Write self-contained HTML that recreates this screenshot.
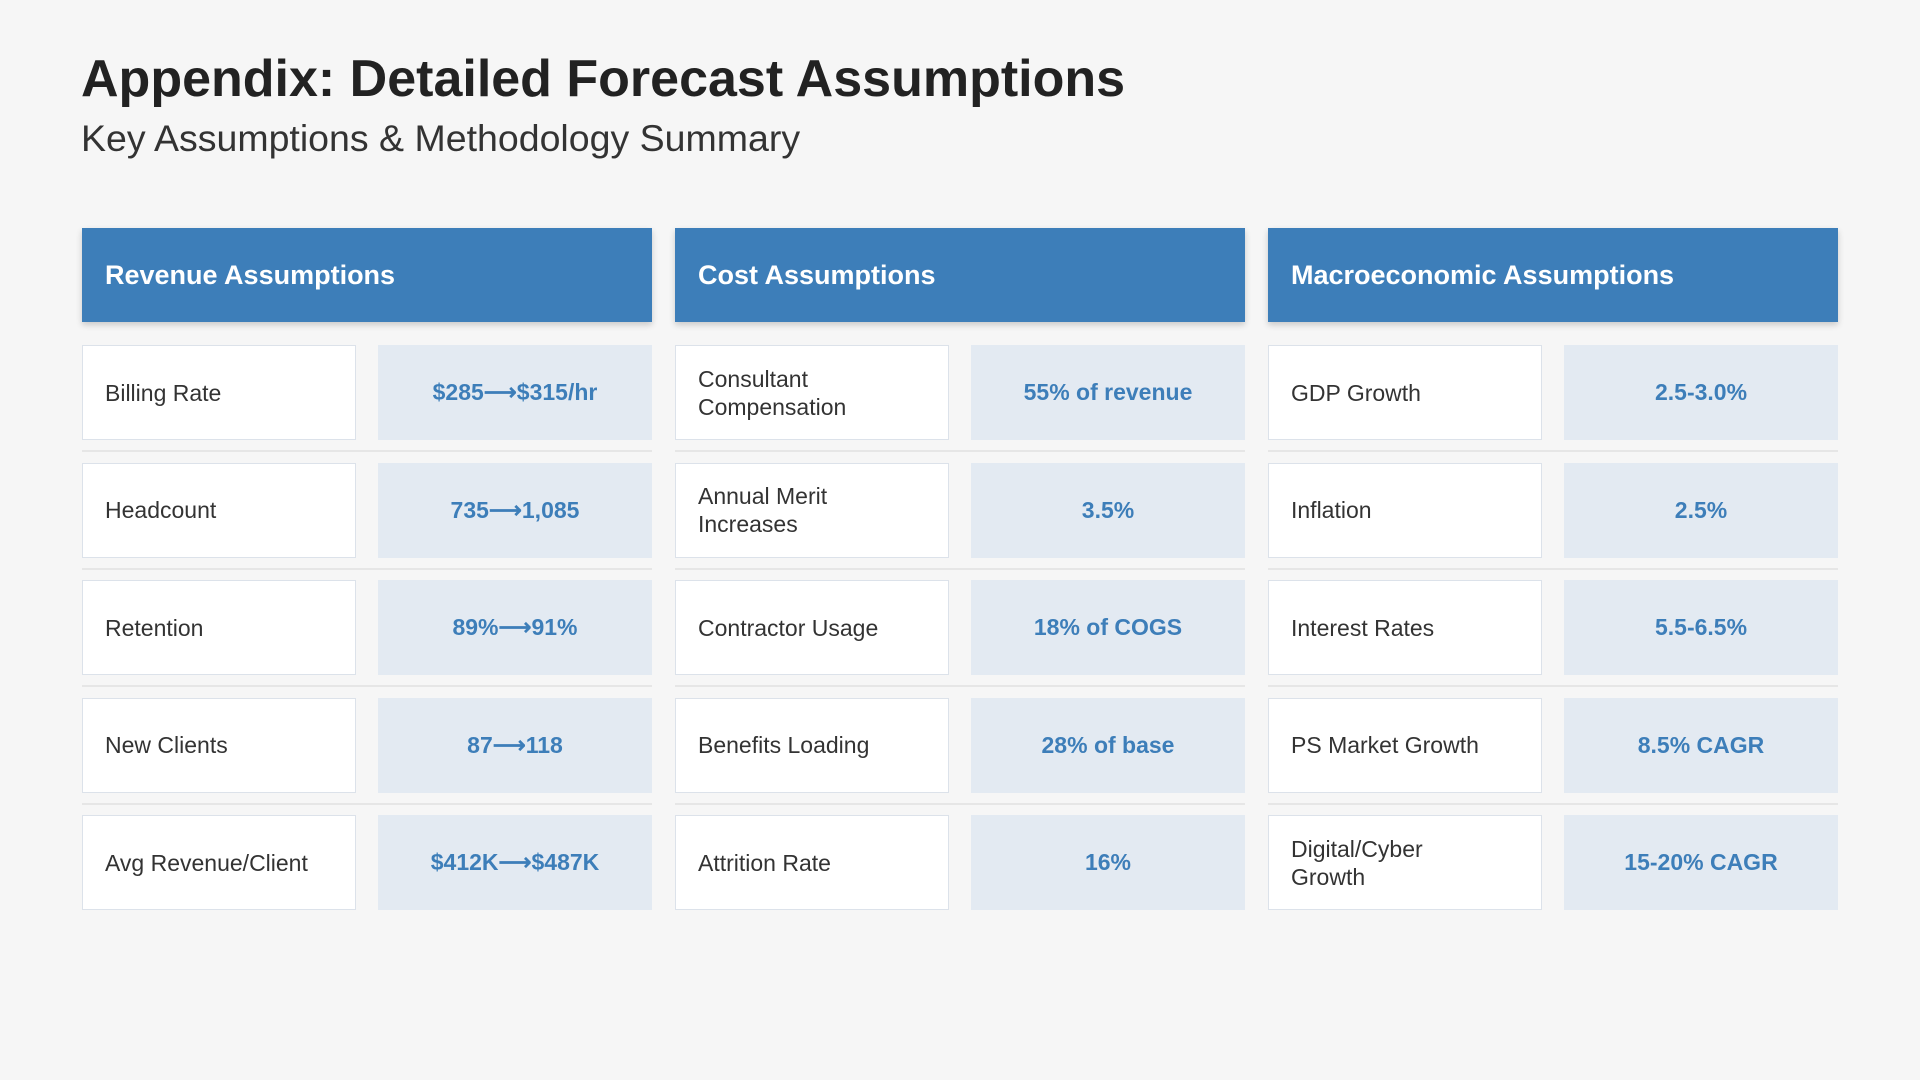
<!DOCTYPE html>
<html><head><meta charset="utf-8"><style>
*{margin:0;padding:0;box-sizing:border-box}
body{width:1920px;height:1080px;background:#f6f6f6;font-family:"Liberation Sans",sans-serif;position:relative;overflow:hidden;color:#2a2a2a}
.t{position:absolute;left:81px;top:49px;font-size:52px;font-weight:bold;color:#222;white-space:nowrap}
.s{position:absolute;left:81px;top:117px;font-size:37.5px;color:#333;white-space:nowrap}
.h{position:absolute;top:228px;width:570px;height:94px;background:#3d7eb9;color:#fff;font-weight:bold;font-size:27px;padding-left:23px;line-height:94px;box-shadow:0 3px 6px rgba(0,0,0,0.18)}
.l{position:absolute;width:274px;height:95px;background:#fff;border:1.5px solid #dce2ea;font-size:23px;padding-left:22px;display:flex;align-items:center;line-height:28px;color:#333}
.v{position:absolute;width:274px;height:95px;background:#e3eaf2;font-size:23px;font-weight:bold;color:#3d7eb9;display:flex;align-items:center;justify-content:center}
.sep{position:absolute;width:570px;height:2px;background:#e6e6e6}
</style></head><body>
<div class="t">Appendix: Detailed Forecast Assumptions</div>
<div class="s">Key Assumptions &amp; Methodology Summary</div>
<div class="h" style="left:82px">Revenue Assumptions</div>
<div class="h" style="left:675px">Cost Assumptions</div>
<div class="h" style="left:1268px">Macroeconomic Assumptions</div>
<div id="g"></div>
<script>
var cols=[82,675,1268];
var d=[
[["Billing Rate","$285⟶$315/hr"],["Headcount","735⟶1,085"],["Retention","89%⟶91%"],["New Clients","87⟶118"],["Avg Revenue/Client","$412K⟶$487K"]],
[["Consultant<br>Compensation","55% of revenue"],["Annual Merit<br>Increases","3.5%"],["Contractor Usage","18% of COGS"],["Benefits Loading","28% of base"],["Attrition Rate","16%"]],
[["GDP Growth","2.5-3.0%"],["Inflation","2.5%"],["Interest Rates","5.5-6.5%"],["PS Market Growth","8.5% CAGR"],["Digital/Cyber<br>Growth","15-20% CAGR"]]];
var h="";
for(var c=0;c<3;c++)for(var r=0;r<5;r++){var y=345+r*117.5,x=cols[c];
h+='<div class="l" style="left:'+x+'px;top:'+y+'px">'+d[c][r][0]+'</div>';
h+='<div class="v" style="left:'+(x+296)+'px;top:'+y+'px">'+d[c][r][1]+'</div>';
if(r<4)h+='<div class="sep" style="left:'+x+'px;top:'+(y+105)+'px"></div>';}
document.getElementById("g").innerHTML=h;
</script>
</body></html>
